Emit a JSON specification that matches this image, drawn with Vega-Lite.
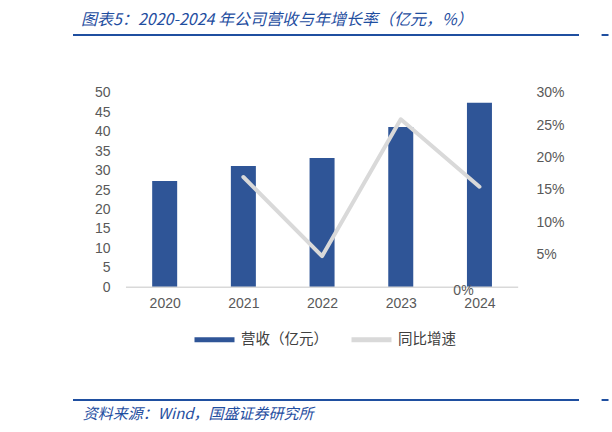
{
  "$schema": "https://vega.github.io/schema/vega-lite/v6.json",
  "description": "Company revenue and YoY growth, 2020-2024",
  "width": 516,
  "height": 365,
  "autosize": {"type": "none"},
  "padding": {"left": 68, "top": 35, "right": 28, "bottom": 32},
  "background": "white",
  "title": {
    "text": "图表5：2020-2024 年公司营收与年增长率（亿元，%）",
    "anchor": "start",
    "frame": "group",
    "font": "Noto Sans CJK SC",
    "fontSize": 16,
    "fontStyle": "italic",
    "fontWeight": "normal",
    "color": "#1F4E9F",
    "dx": 13,
    "offset": 6
  },
  "data": {
    "values": [
      {"year": 2020, "revenue": 27.3, "yoy": null},
      {"year": 2021, "revenue": 31.2, "yoy": 17.0},
      {"year": 2022, "revenue": 33.2, "yoy": 4.8},
      {"year": 2023, "revenue": 41.2, "yoy": 25.9},
      {"year": 2024, "revenue": 47.4, "yoy": 15.5}
    ]
  },
  "config": {
    "view": {"stroke": null},
    "axis": {
      "labelFont": "Liberation Sans",
      "labelFontSize": 14,
      "labelColor": "#595959",
      "labelOverlap": false,
      "domain": false,
      "ticks": false,
      "grid": false,
      "title": null
    },
    "legend": {
      "orient": "none",
      "legendX": 124,
      "legendY": 282,
      "direction": "horizontal",
      "title": null,
      "symbolType": "stroke",
      "symbolSize": 1600,
      "symbolStrokeWidth": 5,
      "labelFont": "Noto Sans CJK SC",
      "labelFontSize": 14.5,
      "labelColor": "#404040",
      "labelOffset": 4,
      "columnPadding": 13
    }
  },
  "layer": [
    {
      "layer": [
        {
          "mark": {"type": "bar", "size": 25},
          "encoding": {
            "x": {
              "field": "year",
              "type": "quantitative",
              "scale": {"domain": [2018.835, 2025.265], "nice": false, "zero": false},
              "axis": {
                "orient": "bottom",
                "offset": -112.7,
                "labelPadding": 9,
                "values": [2020, 2021, 2022, 2023, 2024],
                "format": "d"
              }
            },
            "y": {
              "field": "revenue",
              "type": "quantitative",
              "scale": {"domain": [-28.96, 64.83], "nice": false, "zero": false},
              "axis": {
                "orient": "left",
                "offset": -54,
                "labelPadding": 12,
                "labelOverlap": false,
                "labelSeparation": 0,
                "tickCount": 20,
                "values": [0, 5, 10, 15, 20, 25, 30, 35, 40, 45, 50]
              }
            },
            "color": {
              "datum": "营收（亿元）",
              "type": "nominal",
              "scale": {
                "domain": ["营收（亿元）", "同比增速"],
                "range": ["#2F5597", "#D9D9D9"]
              }
            }
          }
        },
        {
          "data": {"values": [{"rule": "axis"}]},
          "mark": {"type": "rule", "color": "#D9D9D9", "strokeWidth": 1.5},
          "encoding": {
            "x": {"datum": 2019.508, "type": "quantitative"},
            "x2": {"datum": 2024.492},
            "y": {"datum": 0, "type": "quantitative"}
          }
        },
        {
          "data": {"values": [{"edge": 64.83}, {"edge": -28.96}]},
          "mark": {"type": "rule", "color": "#1F4FA0", "strokeWidth": 2},
          "encoding": {
            "x": {"datum": 2018.835, "type": "quantitative"},
            "x2": {"datum": 2025.265},
            "y": {"field": "edge", "type": "quantitative"}
          }
        },
        {
          "data": {"values": [{"edge": 64.83}, {"edge": -28.96}]},
          "mark": {"type": "rule", "color": "#1F4FA0", "strokeWidth": 2},
          "encoding": {
            "x": {"datum": 2025.552, "type": "quantitative"},
            "x2": {"datum": 2025.64},
            "y": {"field": "edge", "type": "quantitative"}
          }
        },
        {
          "data": {"values": [{"source": "资料来源：Wind，国盛证券研究所"}]},
          "mark": {
            "type": "text",
            "align": "left",
            "baseline": "middle",
            "font": "Noto Sans CJK SC",
            "fontSize": 15,
            "fontStyle": "italic",
            "color": "#1F4E9F"
          },
          "encoding": {
            "x": {"datum": 2018.96, "type": "quantitative"},
            "y": {"datum": -32.5, "type": "quantitative"},
            "text": {"field": "source"}
          }
        }
      ]
    },
    {
      "layer": [
        {
          "transform": [{"filter": "datum.yoy != null"}],
          "mark": {"type": "line", "strokeWidth": 4, "strokeCap": "round", "strokeJoin": "round"},
          "encoding": {
            "x": {"field": "year", "type": "quantitative"},
            "y": {
              "field": "yoy",
              "type": "quantitative",
              "scale": {"domain": [-17.37, 38.89], "nice": false, "zero": false},
              "axis": {
                "orient": "right",
                "offset": -62,
                "labelPadding": 14,
                "values": [5, 10, 15, 20, 25, 30],
                "labelExpr": "datum.value + '%'"
              }
            },
            "color": {"datum": "同比增速", "type": "nominal"}
          }
        },
        {
          "data": {"values": [{"label": "0%"}]},
          "mark": {
            "type": "text",
            "align": "center",
            "baseline": "middle",
            "dx": -16,
            "dy": 4,
            "font": "Liberation Sans",
            "fontSize": 14,
            "color": "#595959"
          },
          "encoding": {
            "x": {"datum": 2024, "type": "quantitative"},
            "y": {"datum": 0, "type": "quantitative"},
            "text": {"field": "label"}
          }
        }
      ]
    }
  ],
  "resolve": {"scale": {"y": "independent"}}
}
